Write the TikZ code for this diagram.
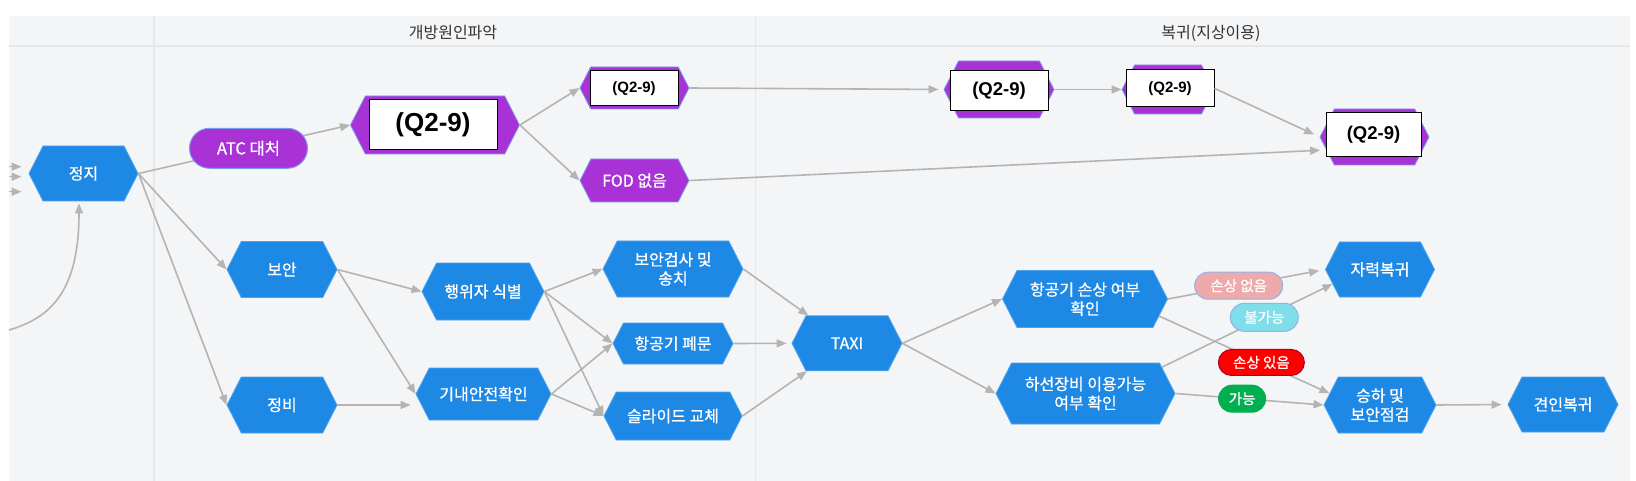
\documentclass[tikz,border=0pt]{standalone}
\usepackage{fontspec}
\newfontfamily\kr{Noto Sans CJK KR}[FakeBold=0.8]
\newfontfamily\krh{Noto Sans CJK KR}
\newfontfamily\lsans{Liberation Sans}
\usetikzlibrary{shapes.symbols, arrows.meta, calc}

\definecolor{bgc}{HTML}{F4F5F7}
\definecolor{sepc}{HTML}{E6E7E9}
\definecolor{hdrc}{HTML}{333333}
\definecolor{bluec}{HTML}{1E88E5}
\definecolor{blueb}{HTML}{4FA3EC}
\definecolor{purpc}{HTML}{A832D6}
\definecolor{purpb}{HTML}{7A9CF0}
\definecolor{edgec}{HTML}{B4B4B4}
\definecolor{pinkc}{HTML}{EEAAAA}
\definecolor{cyanc}{HTML}{80DEEA}
\definecolor{redc}{HTML}{FF0000}
\definecolor{redb}{HTML}{B0002A}
\definecolor{greenc}{HTML}{00B050}
\definecolor{pillb}{HTML}{8FB4E8}

\tikzset{
  hex/.style={signal, signal to=east and west, signal pointer angle=126, inner sep=0pt, align=center, line width=0.8pt},
  hexb/.style={hex, fill=bluec, draw=blueb, text=white, font=\kr\fontsize{16}{19}\selectfont},
  hexp/.style={hex, fill=purpc, draw=purpb, text=white, font=\kr\fontsize{16}{19}\selectfont},
  qbox/.style={rectangle, fill=white, draw=black, line width=1pt, inner sep=0pt},
  pill/.style={rectangle, inner sep=0pt, text=white, line width=1pt, font=\kr\fontsize{14.5}{14.5}\selectfont},
  arr/.style={draw=edgec, line width=1.6pt, -{Triangle[length=10pt,width=8pt]}},
}

\begin{document}
\begin{tikzpicture}[x=1pt, y=1pt]
\useasboundingbox (0,0) rectangle (1636,-481);
% background and lanes
\fill[bgc] (9,-16) rectangle (1630,-481);
\draw[sepc, line width=2pt] (9,-46.5) -- (1630,-46.5);
\draw[sepc, line width=1.5pt] (154,-16) -- (154,-481);
\draw[sepc, line width=1.5pt] (755.5,-16) -- (755.5,-481);
\node[font=\krh\fontsize{16}{16}\selectfont, text=hdrc] (h1) at (453,-33) {개방원인파악};
\node[font=\krh\fontsize{16}{16}\selectfont, text=hdrc] (h2) at (1211,-33) {복귀(지상이용)};

% blue nodes
\node[hexb, minimum width=109pt, minimum height=55pt] (jj) at (83.5,-173.5) {정지};
\node[hexb, minimum width=110pt, minimum height=56pt] (ba) at (282,-269.5) {보안};
\node[hexb, minimum width=110pt, minimum height=56pt] (jb) at (282,-405) {정비};
\node[hexb, minimum width=122pt, minimum height=57pt] (hw) at (483,-291.5) {행위자 식별};
\node[hexb, minimum width=135pt, minimum height=52pt] (gn) at (483.5,-394) {기내안전확인};
\node[hexb, minimum width=140pt, minimum height=56pt] (bs) at (673,-269) {보안검사 및\\송치};
\node[hexb, minimum width=120pt, minimum height=41pt] (pm) at (673,-343.5) {항공기 폐문};
\node[hexb, minimum width=138pt, minimum height=48pt] (sl) at (673,-416) {슬라이드 교체};
\node[hexb, minimum width=110pt, minimum height=55pt] (tx) at (847,-343.3) {TAXI};
\node[hexb, minimum width=165pt, minimum height=57pt] (hs) at (1085,-299) {항공기 손상 여부\\확인};
\node[hexb, minimum width=179pt, minimum height=61pt] (hc) at (1085.5,-393.5) {하선장비 이용가능\\여부 확인};
\node[hexb, minimum width=109pt, minimum height=55pt] (jr) at (1380,-269.5) {자력복귀};
\node[hexb, minimum width=112pt, minimum height=56pt] (sh) at (1380,-405) {승하 및\\보안점검};
\node[hexb, minimum width=110pt, minimum height=55pt] (gy) at (1563,-404.5) {견인복귀};

% purple nodes
\node[hexp, minimum width=169pt, minimum height=58pt] (q1) at (435,-125) {};
\node[qbox, minimum width=128pt, minimum height=50pt, font=\lsans\bfseries\fontsize{26}{26}\selectfont] (q1b) at (433,-125) {(Q2-9)};
\node[hexp, minimum width=109pt, minimum height=42pt] (q2) at (634.5,-88) {};
\node[qbox, minimum width=88pt, minimum height=35pt, font=\lsans\bfseries\fontsize{15}{15}\selectfont] (q2b) at (634,-88.5) {(Q2-9)};
\node[hexp, minimum width=109pt, minimum height=43pt] (fod) at (634.5,-180.5) {FOD 없음};
\node[hexp, minimum width=110pt, minimum height=57pt] (q3) at (999,-89.5) {};
\node[qbox, minimum width=98pt, minimum height=40pt, font=\lsans\bfseries\fontsize{18.5}{18.5}\selectfont] (q3b) at (999,-90.5) {(Q2-9)};
\node[hexp, minimum width=92pt, minimum height=49pt] (q4) at (1168,-89.5) {};
\node[qbox, minimum width=88pt, minimum height=37pt, font=\lsans\bfseries\fontsize{15}{15}\selectfont] (q4b) at (1170,-88.4) {(Q2-9)};
\node[hexp, minimum width=109pt, minimum height=56pt] (q5) at (1374.5,-137) {};
\node[qbox, minimum width=95pt, minimum height=44pt, font=\lsans\bfseries\fontsize{18.5}{18.5}\selectfont] (q5b) at (1373.5,-135) {(Q2-9)};

% incoming stubs and curve
\coordinate (s1) at (9,-166.7);
\coordinate (s2) at (9,-176.7);
\coordinate (s3) at (9,-191.7);
\coordinate (cl) at (9,-330);
\draw[arr, shorten >=7pt] (s1) -- (s1 -| jj.west);
\draw[arr, shorten >=7pt] (s2) -- (s2 -| jj.west);
\draw[arr, shorten >=7pt] (s3) -- (s3 -| jj.west);
\draw[arr] (cl) .. controls (50,-318) and (79,-292) .. ($(jj.south)+(-4.5,-2)$);

% top edges
\draw[arr] (jj.east) -- node[pill, pos=0.52, fill=purpc, draw=purpb, minimum width=118pt, minimum height=40pt, rounded corners=20pt, font=\kr\fontsize{16.5}{16.5}\selectfont] (atc) {ATC 대처} (q1.west);
\draw[arr] (q1.east) -- (q2.west);
\draw[arr] (q1.east) -- (fod.west);
\draw[arr, shorten >=5pt] (q2.east) -- (q3.west);
\draw[arr] (q3.east) -- (q4.west);
\draw[arr, shorten >=6pt] (q4b.east) -- (q5.west);
\draw[arr, shorten >=6pt] (fod.east) -- (q5.195);

% lower edges
\draw[arr] (jj.east) -- (ba.west);
\draw[arr] (jj.east) -- (jb.west);
\draw[arr] (ba.east) -- (hw.west);
\draw[arr] (ba.east) -- (gn.west);
\draw[arr, shorten >=5pt] (jb.east) -- (jb.east -| gn.west);
\draw[arr] (hw.east) -- (bs.west);
\draw[arr] (hw.east) -- (pm.west);
\draw[arr] (hw.east) -- (sl.west);
\draw[arr] (gn.east) -- (pm.west);
\draw[arr] (gn.east) -- (sl.west);
\draw[arr] (bs.east) -- (tx);
\draw[arr, shorten >=5pt] (pm.east) -- (tx.west);
\draw[arr] (sl.east) -- (tx);
\draw[arr] (tx.east) -- (hs.west);
\draw[arr] (tx.east) -- (hc.west);
\draw[arr, shorten >=6pt] (hs.east) -- node[pill, pos=0.45, fill=pinkc, draw=pillb, minimum width=88pt, minimum height=27pt, rounded corners=13.5pt] (l1) {손상 없음} (jr.west);
\draw[arr] (hs.-13) -- node[pill, pos=0.6, fill=redc, draw=redb, minimum width=86pt, minimum height=26pt, rounded corners=13pt] (l3) {손상 있음} (sh.167);
\draw[arr] (hc.19) -- node[pill, pos=0.6, fill=cyanc, draw=pillb, minimum width=68pt, minimum height=28pt, rounded corners=14pt] (l2) {불가능} (jr.197);
\draw[arr] (hc.east) -- node[pill, pos=0.45, fill=greenc, draw=greenc, minimum width=47pt, minimum height=27pt, rounded corners=13.5pt] (l4) {가능} (sh.west);
\draw[arr, shorten >=6pt] (sh.east) -- (gy.west);
\end{tikzpicture}
\end{document}
